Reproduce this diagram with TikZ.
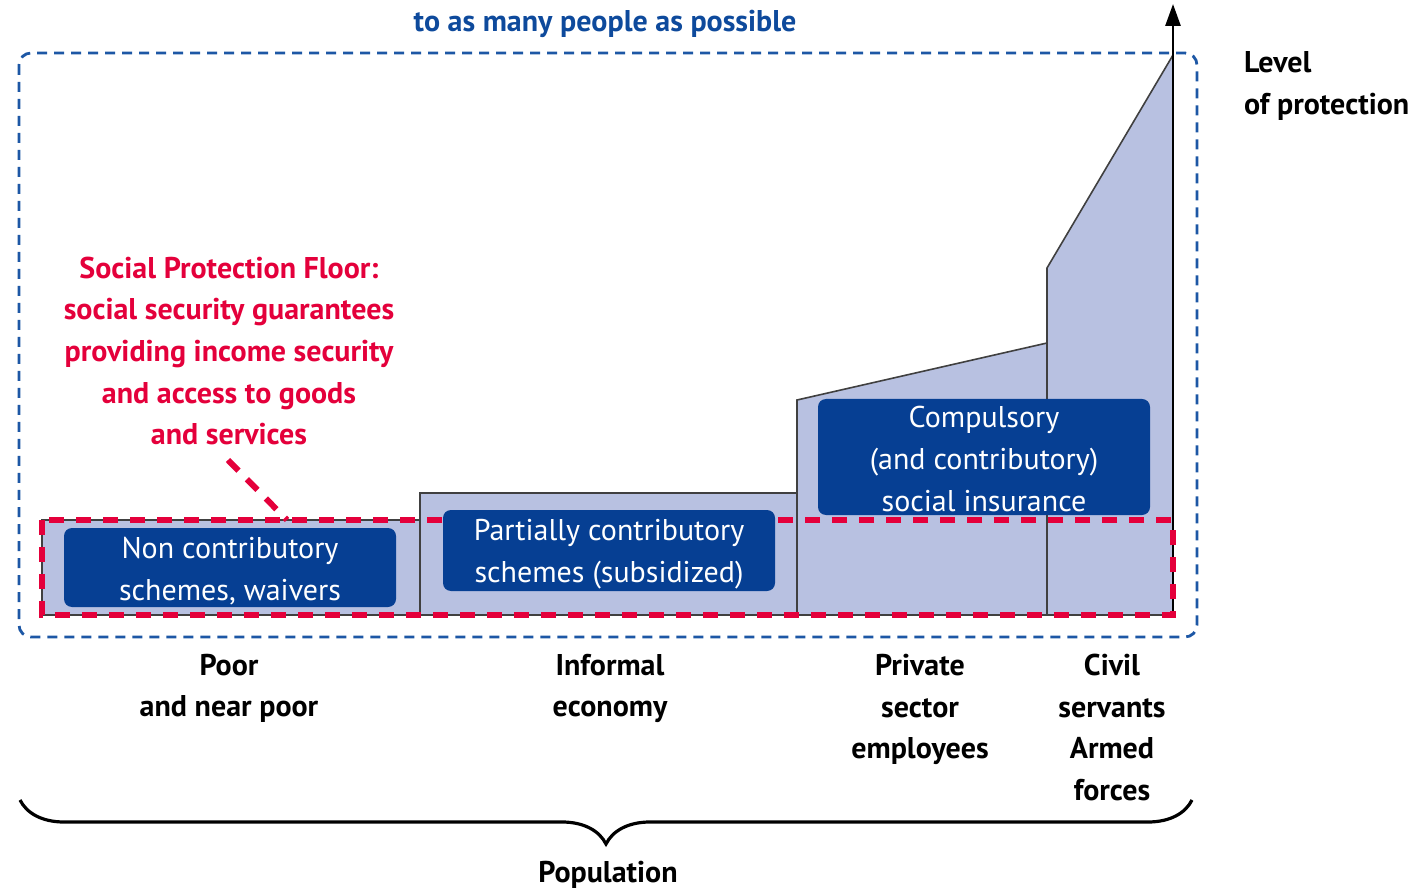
\documentclass[tikz,border=0pt]{standalone}
\usepackage{fontspec}
\setmainfont{PT Sans}
\usetikzlibrary{decorations.pathreplacing,arrows.meta}
\definecolor{fillblue}{HTML}{B8C1E1}
\definecolor{darkblue}{HTML}{063F93}
\definecolor{floorred}{HTML}{E4003B}
\definecolor{dashblue}{HTML}{1D57A5}
\definecolor{outlinegray}{HTML}{404040}
\definecolor{titleblue}{HTML}{0E4A9C}
\tikzset{
  schemebox/.style={fill=darkblue, rounded corners=4pt, draw=none},
  schemetext/.style={text=white, align=center, font=\fontsize{15}{20.8}\selectfont},
  grouplabel/.style={align=center, font=\bfseries\fontsize{15}{20.8}\selectfont, anchor=north},
  floortext/.style={text=floorred, align=center, font=\bfseries\fontsize{15}{20.8}\selectfont},
  floordash/.style={draw=floorred, line width=3pt, dash pattern=on 7.5pt off 6pt},
  reachdash/.style={draw=dashblue, line width=1.4pt, dash pattern=on 5pt off 3.5pt},
  stair/.style={fill=fillblue, draw=outlinegray, line width=0.8pt},
  divider/.style={draw=outlinegray, line width=0.8pt},
}
\begin{document}
\begin{tikzpicture}[x=0.5pt,y=-0.5pt]
\useasboundingbox (0,0) rectangle (1412,892);

% staircase
\path[stair] (42,615) -- (42,520) -- (420,520) -- (420,493) -- (797,493) -- (797,400)
  -- (1047,343) -- (1047,268) -- (1173,55) -- (1173,615) -- cycle;
\draw[divider] (420,520) -- (420,615);
\draw[divider] (797,493) -- (797,615);
\draw[divider] (1047,343) -- (1047,615);

% reach box
\draw[reachdash, rounded corners=6pt] (19,53) rectangle (1197,637);
\node[text=titleblue, font=\bfseries\fontsize{15}{20.8}\selectfont] (reach) at (605,24) {to as many people as possible};

% axis
\coordinate (axbase) at (1173,615);
\coordinate (axtop) at (1173,4);
\draw[line width=1.4pt, -{Triangle[length=11pt,width=7.5pt]}] (axbase) -- (axtop);
\node[anchor=west, align=left, font=\bfseries\fontsize{15}{20.8}\selectfont] (level) at (1237,86) {Level\\of protection};

% floor
\draw[floordash] (42,520) rectangle (1173,615);
\node[floortext] (floor) at (229,351) {Social Protection Floor:\\social security guarantees\\providing income security\\and access to goods\\and services};
\coordinate (floorA) at (228,460);
\coordinate (floorB) at (287,520);
\draw[floordash] (floorA) -- (floorB);

% scheme boxes
\path[schemebox] (64,528) rectangle (396,607);
\node[schemetext] (noncontrib) at (230,571) {Non contributory\\schemes, waivers};
\path[schemebox] (443,510) rectangle (775,591);
\node[schemetext] (partial) at (609,554) {Partially contributory\\schemes (subsidized)};
\path[schemebox] (818,399) rectangle (1150,515);
\node[schemetext] (compulsory) at (984,459) {Compulsory\\(and contributory)\\social insurance};

% group labels
\node[grouplabel] (poor) at (229,647) {Poor\\and near poor};
\node[grouplabel] (informal) at (610,647) {Informal\\economy};
\node[grouplabel] (private) at (920,647) {Private\\sector\\employees};
\node[grouplabel] (civil) at (1112,647) {Civil\\servants\\Armed\\forces};

% brace
\coordinate (braceL) at (20,800);
\coordinate (braceR) at (1192,800);
\draw[line width=1.6pt, decorate, decoration={brace, mirror, amplitude=22pt, aspect=0.5}] (braceL) -- (braceR);
\node[font=\bfseries\fontsize{15}{20.8}\selectfont] (population) at (608,875) {Population};
\end{tikzpicture}
\end{document}
